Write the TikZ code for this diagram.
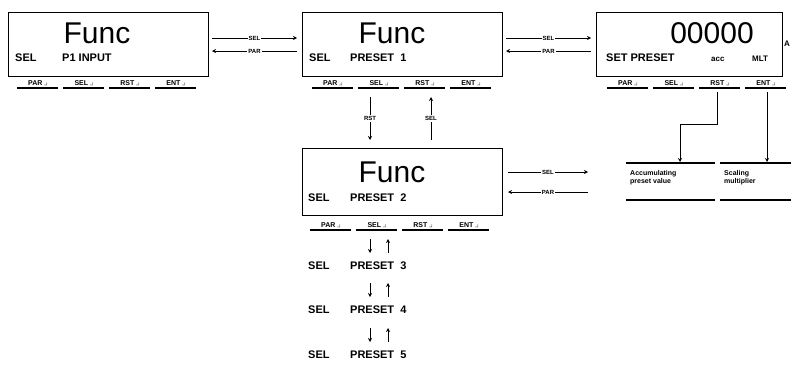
\documentclass[tikz,border=0pt]{standalone}
\usepackage{amssymb}
\usepackage{fontspec}
\setmainfont{Liberation Sans}
\usetikzlibrary{arrows.meta}
\begin{document}
\begin{tikzpicture}[x=1pt,y=-1pt,
  disp/.style={draw, line width=1.3pt, anchor=north west, inner sep=0pt},
  big/.style={font=\fontsize{30}{30}\selectfont, inner sep=0pt},
  lcd/.style={font=\fontsize{11}{11}\selectfont\bfseries, inner sep=0pt, anchor=west},
  key/.style={font=\fontsize{7}{7}\selectfont\bfseries, inner sep=1pt, anchor=south},
  keyline/.style={line width=1.1pt},
  lbl/.style={font=\fontsize{6}{6}\selectfont\bfseries, fill=white, inner sep=1pt},
  conn/.style={line width=1pt, -{Stealth[length=4pt,width=4pt]}},
  side/.style={font=\fontsize{7}{8}\selectfont\bfseries, align=left, anchor=north west, inner sep=0pt}
]
\useasboundingbox (0,0) rectangle (791,365);

% ---------- displays ----------
\node[disp, minimum width=200, minimum height=64] (d1) at (8,12) {};
\node[disp, minimum width=200, minimum height=64] (d2) at (302,12) {};
\node[disp, minimum width=186, minimum height=64] (d3) at (596,12) {};
\node[disp, minimum width=200, minimum height=67] (d4) at (302,148) {};

% display texts
\node[big] (f1) at (97,33) {Func};
\node[lcd] (s1a) at (15,58) {SEL};
\node[lcd] (s1b) at (62,58) {P1 INPUT};

\node[big] (f2) at (392,33) {Func};
\node[lcd] (s2a) at (309,58) {SEL};
\node[lcd] (s2b) at (350,58) {PRESET\ \ 1};

\node[big] (f3) at (712,33) {00000};
\node[font=\fontsize{8}{8}\selectfont\bfseries, inner sep=0pt] (a3) at (787,44) {A};
\node[lcd] (s3a) at (606,58) {SET PRESET};
\node[lcd, font=\fontsize{8}{8}\selectfont\bfseries] (s3b) at (711,59) {acc};
\node[lcd, font=\fontsize{8}{8}\selectfont\bfseries] (s3c) at (752,59) {MLT};

\node[big] (f4) at (392,172) {Func};
\node[lcd] (s4a) at (308,198) {SEL};
\node[lcd] (s4b) at (350,198) {PRESET\ \ 2};

% ---------- key rows ----------
\foreach \r/\xa/\yy in {k1/15/88, k2/310/88, k3/605/88, k4/308/230}{
  \foreach \i/\t in {0/PAR,1/SEL,2/RST,3/ENT}{
    \node[key] (\r\i) at ({\xa+23+\i*46},\yy-1) {\t\,$\lrcorner$};
    \draw[keyline] ({\xa+\i*46+2},\yy) -- ({\xa+\i*46+43},\yy);
  }
}

% ---------- horizontal arrow pairs ----------
\coordinate (p1a) at (212,38); \coordinate (p1b) at (297,38);
\coordinate (p1c) at (297,51); \coordinate (p1d) at (212,51);
\draw[conn] (p1a) -- node[lbl] (l1a) {SEL} (p1b);
\draw[conn] (p1c) -- node[lbl] (l1b) {PAR} (p1d);

\coordinate (p2a) at (506,38); \coordinate (p2b) at (591,38);
\coordinate (p2c) at (591,51); \coordinate (p2d) at (506,51);
\draw[conn] (p2a) -- node[lbl] (l2a) {SEL} (p2b);
\draw[conn] (p2c) -- node[lbl] (l2b) {PAR} (p2d);

\coordinate (p3a) at (508,172); \coordinate (p3b) at (588,172);
\coordinate (p3c) at (588,192); \coordinate (p3d) at (508,192);
\draw[conn] (p3a) -- node[lbl] (l3a) {SEL} (p3b);
\draw[conn] (p3c) -- node[lbl] (l3b) {PAR} (p3d);

% ---------- vertical arrows between d2 and d4 ----------
\coordinate (v1a) at (370,97); \coordinate (v1b) at (370,140);
\coordinate (v2a) at (431,140); \coordinate (v2b) at (431,97);
\draw[conn] (v1a) -- node[lbl] (lv1) {RST} (v1b);
\draw[conn] (v2a) -- node[lbl] (lv2) {SEL} (v2b);

% ---------- preset list ----------
\foreach \n/\yy in {3/266, 4/310, 5/355}{
  \draw[conn] (370,{\yy-27}) -- (370,{\yy-13});
  \draw[conn] (388,{\yy-13}) -- (388,{\yy-27});
  \node[lcd] (sa\n) at (308,\yy) {SEL};
  \node[lcd] (sb\n) at (350,\yy) {PRESET\ \ \n};
}

% ---------- side boxes ----------
\node[side] (acc) at (630,170) {Accumulating\\preset value};
\node[side] (mlt) at (724,170) {Scaling\\multiplier};
\draw[line width=1.1pt] (626,163) -- (715,163) (626,200) -- (715,200);
\draw[line width=1.1pt] (720,163) -- (791,163) (720,200) -- (791,200);

\coordinate (c1) at (717,92);
\coordinate (c2) at (767,92);
\coordinate (t1) at (680,162);
\coordinate (t2) at (767,162);
\draw[conn] (c1) -- (717,124) -| (t1);
\draw[conn] (c2) -- (t2);
\end{tikzpicture}
\end{document}
